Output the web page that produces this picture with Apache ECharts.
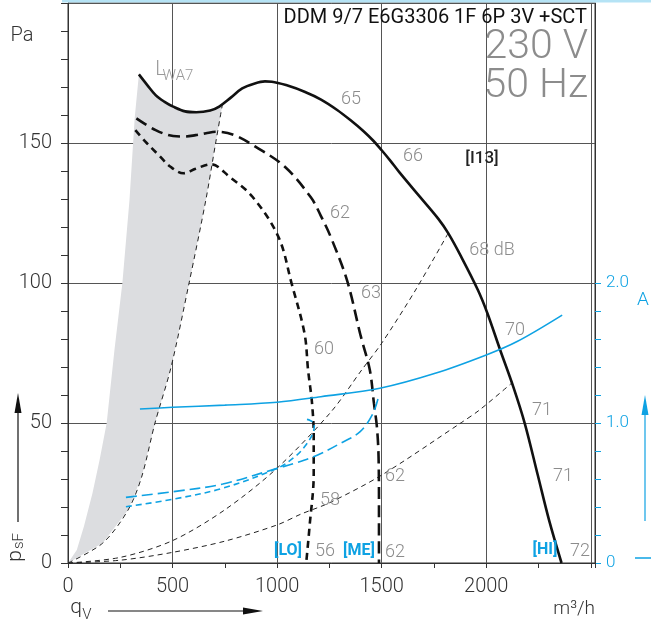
<!DOCTYPE html>
<html><head><meta charset="utf-8">
<script src="https://cdn.jsdelivr.net/npm/echarts@6/dist/echarts.min.js"></script>
<style>html,body{margin:0;padding:0;background:#fff}#c{width:651px;height:628px}</style>
</head><body><div id="c"></div>
<script>
// ---- data (q in m3/h, p in Pa, current in A) ----
const xLabels = [0, 500, 1000, 1500, 2000];
const aLabels = [0, 1, 2];
const aTicks = [0, 0.2, 0.4, 0.6, 0.8, 1.0, 1.2, 1.4, 1.6, 1.8, 2.0];

const hiQ = [339,380,419,460,503,560,613,680,723,780,833,890,942,975,1050,1131,1210,1287,1350,1412,1460,1500,1540,1584,1678,1771,1818,1880,1960,2005,2067,2129,2184,2246,2300,2360];
const hiP = [174.5,170.6,167.1,164.8,163,161.3,161,161.6,163,166.3,169.5,171.2,172,171.9,170.5,168.3,165.5,161.8,158.2,154.3,150.8,147.4,143.8,139.6,131.2,122.9,117.8,109.4,97.5,89.3,76,63,49.9,31.5,15.4,0];

const meQ = [327,419,503,555,610,660,707,793,896,1037,1162,1209,1256,1334,1400,1443,1463,1477,1485,1487,1487];
const meP = [158.8,154.6,152.5,152.3,152.8,153.5,154,152.9,148.7,141.5,130.5,124,116.5,101,81,69,57,48.7,38,20,0];

const loQ = [322,370,436,490,552,610,684,771,882,1006,1069,1131,1148,1167,1175,1175,1155,1139];
const loP = [154.6,150.5,145.5,141.5,139.2,140.8,142.4,138,130.8,116.5,99.9,82,68.9,57,45.1,32,13,0];

const hiAQ = [344,500,750,1000,1209,1491,1756,2000,2145,2363];
const hiA  = [1.10,1.112,1.128,1.148,1.188,1.248,1.355,1.486,1.58,1.771];
const meAQ = [277,500,740,1000,1084,1194,1303,1397,1459,1487];
const meA  = [0.469,0.509,0.564,0.676,0.712,0.771,0.855,0.938,1.07,1.2];
const loAQ = [277,500,740,1000,1084,1131,1171,1178,1158,1139];
const loA  = [0.402,0.455,0.534,0.676,0.758,0.83,0.926,0.993,1.018,1.027];

const sysAQ = [0,250,500,750,1000,1115,1250,1500,1880,1967,2121];
const sysAP = [0,1,3.8,7.8,13.6,17.5,21.5,31.4,50.1,54.6,64.2];
const sysBQ = [0,250,500,750,1000,1258,1405,1500,1662,1818];
const sysBP = [0,2,8,19,33.9,54,69,78.5,97.5,117.8];
const sysCQ = [0,166,287,352,416,493,579,659,706,738];
const sysCP = [0,7.1,18.9,30.7,50,70,100,129.6,150,163.6];

const grayLQ = [0,42,76,117,151,185,222,260,294,319,339];
const grayLP = [0,4.6,13,24.9,36.8,50,76,100,129.6,159,174.5];

// ---- chart ----
const zip = (a, b) => a.map((v, i) => [v, b[i]]);
const FONT = "Roboto, 'Liberation Sans', Arial, sans-serif";
const BLUE = '#0ea2e3';
const GRAYT = '#8c8c8c';

function txt(text, x, y, size, color, opts) {
  opts = opts || {};
  return {
    type: 'text', x: x, y: y, rotation: opts.rot || 0, z: 100,
    style: {
      text: text, fill: color, font: (opts.weight || 'normal') + ' ' + size + 'px ' + FONT,
      textAlign: opts.align || 'center', textVerticalAlign: 'middle',
      align: opts.align || 'center', verticalAlign: 'middle'
    }
  };
}
function arrow(x1, y1, x2, y2, color, head, hw) {
  const dx = x2 - x1, dy = y2 - y1, L = Math.hypot(dx, dy);
  const ux = dx / L, uy = dy / L;
  const bx = x2 - ux * head, by = y2 - uy * head;
  return [
    {type: 'line', shape: {x1: x1, y1: y1, x2: bx, y2: by}, style: {stroke: color, lineWidth: 1.2}, z: 100},
    {type: 'polygon', shape: {points: [[x2, y2], [bx - uy * hw, by + ux * hw], [bx + uy * hw, by - ux * hw]]}, style: {fill: color}, z: 100}
  ];
}

const chart = echarts.init(document.getElementById('c'));
const axisCol = '#333';
const lineSeries = (name, q, p, style, extra) => Object.assign({
  name: name, type: 'line', data: zip(q, p), symbol: 'none', smooth: 0.35,
  lineStyle: style, silent: true, z: 5
}, extra || {});

const option = {
  animation: false,
  grid: {left: 68, top: 3, width: 527, height: 560, show: true, borderColor: axisCol, borderWidth: 1, backgroundColor: 'transparent'},
  xAxis: {
    type: 'value', min: 0, max: 2520, interval: 500,
    axisLine: {show: true, onZero: false, lineStyle: {color: axisCol}},
    axisTick: {show: true, length: 5, lineStyle: {color: axisCol}},
    minorTick: {show: true, splitNumber: 2, length: 5, lineStyle: {color: axisCol}},
    splitLine: {show: true, lineStyle: {color: '#555', width: 1}},
    axisLabel: {customValues: xLabels, formatter: v => String(v), fontSize: 20, color: '#333', margin: 14, fontFamily: FONT, fontWeight: 300}
  },
  yAxis: [{
    type: 'value', min: 0, max: 200, interval: 50, position: 'left',
    axisLine: {show: true, lineStyle: {color: axisCol}},
    axisTick: {show: true, length: 7, lineStyle: {color: axisCol}},
    minorTick: {show: true, splitNumber: 5, length: 7, lineStyle: {color: axisCol}},
    splitLine: {show: true, lineStyle: {color: '#555', width: 1}},
    axisLabel: {formatter: v => (v === 200 ? '' : String(v)), fontSize: 20, color: '#333', margin: 16, fontFamily: FONT, fontWeight: 300}
  }, {
    type: 'value', min: 0, max: 4, position: 'right',
    axisLine: {show: true, lineStyle: {color: axisCol}},
    axisTick: {show: true, length: 6, customValues: aTicks, lineStyle: {color: BLUE}},
    splitLine: {show: false},
    axisLabel: {customValues: aLabels, formatter: v => (v === 0 ? '0' : v.toFixed(1)), color: BLUE, fontSize: 17, margin: 11, fontFamily: FONT, fontWeight: 300}
  }],
  series: [
    {
      type: 'custom', coordinateSystem: 'cartesian2d', data: [[0, 0]], z: 1, silent: true,
      renderItem: (params, api) => {
        const pts = [];
        grayLQ.forEach((q, i) => pts.push(api.coord([q, grayLP[i]])));
        hiQ.forEach((q, i) => { if (q > 339 && q < 738) pts.push(api.coord([q, hiP[i]])); });
        for (let i = sysCQ.length - 1; i >= 0; i--) pts.push(api.coord([sysCQ[i], sysCP[i]]));
        return {type: 'polygon', shape: {points: pts}, style: {fill: '#dcdde0'}};
      }
    },
    lineSeries('sysA', sysAQ, sysAP, {color: '#222', width: 1, type: [5, 4]}, {smooth: 0.3, z: 3}),
    lineSeries('sysB', sysBQ, sysBP, {color: '#222', width: 1, type: [5, 4]}, {smooth: 0.3, z: 3}),
    lineSeries('sysC', sysCQ, sysCP, {color: '#222', width: 1, type: [5, 4]}, {smooth: 0.3, z: 3}),
    lineSeries('HI', hiQ, hiP, {color: '#111', width: 2.6}),
    lineSeries('ME', meQ, meP, {color: '#111', width: 2.6, type: [12, 6]}),
    lineSeries('LO', loQ, loP, {color: '#111', width: 2.6, type: [7, 5]}),
    lineSeries('I HI', hiAQ, hiA, {color: BLUE, width: 1.6}, {yAxisIndex: 1, z: 6}),
    lineSeries('I ME', meAQ, meA, {color: BLUE, width: 1.6, type: [11, 5]}, {yAxisIndex: 1, z: 6}),
    lineSeries('I LO', loAQ, loA, {color: BLUE, width: 1.6, type: [6, 4]}, {yAxisIndex: 1, z: 6})
  ],
  graphic: [].concat(
    [{type: 'rect', shape: {x: 62, y: 0, width: 589, height: 2.5}, style: {fill: '#b5e3f5'}, z: 100}],
    [txt('DDM 9/7 E6G3306 1F 6P 3V +SCT', 587, 18, 20, '#111', {align: 'right'}),
     txt('230 V', 588, 48, 41, GRAYT, {align: 'right', weight: 300}),
     txt('50 Hz', 588, 87, 41, GRAYT, {align: 'right', weight: 300}),
     txt('Pa', 22, 36, 20, '#333', {weight: 300}),
     txt('L', 160.5, 70, 20, '#999', {weight: 300}),
     txt('WA7', 178, 76, 15, '#999', {weight: 300}),
     txt('p', 16, 556, 21, '#333', {rot: Math.PI / 2, weight: 300}),
     txt('sF', 19, 541, 15, '#333', {rot: Math.PI / 2, weight: 300}),
     txt('q', 76, 608, 21, '#333', {weight: 300}),
     txt('V', 87, 615, 15, '#333', {weight: 300}),
     txt('m³/h', 595, 609, 19, '#333', {align: 'right', weight: 300}),
     txt('A', 643, 300, 19, BLUE, {weight: 300}),
     txt('65', 351, 99, 18, GRAYT, {weight: 300}),
     txt('66', 413, 156, 18, GRAYT, {weight: 300}),
     txt('62', 340, 213.5, 18, GRAYT, {weight: 300}),
     txt('63', 371, 293, 18, GRAYT, {weight: 300}),
     txt('60', 324, 349, 18, GRAYT, {weight: 300}),
     txt('68 dB', 492, 250, 18, GRAYT, {weight: 300}),
     txt('70', 515, 330, 18, GRAYT, {weight: 300}),
     txt('71', 542, 410, 18, GRAYT, {weight: 300}),
     txt('71', 563, 476, 18, GRAYT, {weight: 300}),
     txt('58', 330, 500, 18, GRAYT, {weight: 300}),
     txt('62', 395, 476, 18, GRAYT, {weight: 300}),
     txt('56', 325, 551, 18, GRAYT, {weight: 300}),
     txt('62', 395, 552, 18, GRAYT, {weight: 300}),
     txt('72', 580, 551, 18, GRAYT, {weight: 300}),
     txt('[I13]', 482, 159, 17, '#222', {weight: 500}),
     txt('[LO]', 288, 551, 16, BLUE, {weight: 'bold'}),
     txt('[ME]', 359, 551, 16, BLUE, {weight: 'bold'}),
     txt('[HI]', 545, 550, 16, BLUE, {weight: 'bold'}),
     {type: 'line', shape: {x1: 635, y1: 558, x2: 651, y2: 558}, style: {stroke: BLUE, lineWidth: 1.5}, z: 100}
    ],
    arrow(18, 522, 18, 393, '#111', 20, 3.5),
    arrow(645, 521, 645, 395, BLUE, 20, 3.5),
    arrow(108, 611, 263, 611, '#111', 20, 3.5)
  )
};
chart.setOption(option);
</script></body></html>
